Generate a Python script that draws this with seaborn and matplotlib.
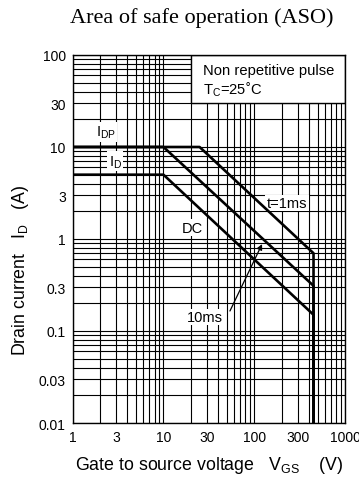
import matplotlib
matplotlib.use("Agg")
import matplotlib.pyplot as plt
from matplotlib.patches import Rectangle
import seaborn as sns
import pandas as pd

# Safe operating area boundaries (V_DS in V, I_D in A)
pulse_1ms_v = [1, 25, 450, 450]
pulse_1ms_i = [10, 10, 0.7, 0.01]
pulse_10ms_v = [1, 10, 450, 450]
pulse_10ms_i = [10, 10, 0.31, 0.01]
dc_v = [1, 10, 450, 450]
dc_i = [5, 5, 0.15, 0.01]

x_ticks = [1, 3, 10, 30, 100, 300, 1000]
x_tick_labels = ["1", "3", "10", "30", "100", "300", "1000"]
y_ticks = [0.01, 0.03, 0.1, 0.3, 1, 3, 10, 30, 100]
y_tick_labels = ["0.01", "0.03", "0.1", "0.3", "1", "3", "10", "30", "100"]

sns.set_theme(style="white")
plt.rcParams["font.family"] = ["Liberation Sans", "DejaVu Sans"]
plt.rcParams["mathtext.fontset"] = "custom"
plt.rcParams["mathtext.rm"] = "Liberation Sans"
plt.rcParams["text.color"] = "black"
plt.rcParams["axes.labelcolor"] = "black"

fig = plt.figure(figsize=(3.59, 4.81), dpi=100)
ax = fig.add_axes([0.2025, 0.1185, 0.7585, 0.7651])

curves = pd.concat([
    pd.DataFrame({"v": pulse_1ms_v, "i": pulse_1ms_i, "curve": "1ms"}),
    pd.DataFrame({"v": pulse_10ms_v, "i": pulse_10ms_i, "curve": "10ms"}),
    pd.DataFrame({"v": dc_v, "i": dc_i, "curve": "DC"}),
])
for name, grp in curves.groupby("curve", sort=False):
    sns.lineplot(data=grp, x="v", y="i", sort=False, estimator=None,
                 color="black", linewidth=1.9, ax=ax, zorder=4)

ax.set_xscale("log")
ax.set_yscale("log")
ax.set_xlim(1, 1000)
ax.set_ylim(0.01, 100)
ax.grid(which="both", color="black", linewidth=0.8, zorder=1)
ax.set_axisbelow(True)
for s in ax.spines.values():
    s.set_color("black")
    s.set_linewidth(1.0)
    s.set_zorder(6)

ax.set_xticks(x_ticks)
ax.set_xticklabels(x_tick_labels)
ax.set_yticks(y_ticks)
ax.set_yticklabels(y_tick_labels)
ax.tick_params(which="both", length=0, labelsize=10, colors="black", pad=5)
ax.set_xlabel("")
ax.set_ylabel("")

# condition box
ax.add_patch(Rectangle((0.434, 0.870), 0.566, 0.130, transform=ax.transAxes,
                       facecolor="white", edgecolor="black", linewidth=1.0, zorder=5))
ax.text(0.478, 0.958, "Non repetitive pulse", transform=ax.transAxes,
        fontsize=10.6, va="center", ha="left", zorder=6)
ax.text(0.478, 0.908, r"T$_\mathregular{C}$=25˚C", transform=ax.transAxes,
        fontsize=10.6, va="center", ha="left", zorder=6)

lbl_box = dict(facecolor="white", edgecolor="none", pad=1.0)
ax.text(2.3, 14.6, r"I$_\mathregular{DP}$", fontsize=10.5, ha="center", va="center",
        bbox=lbl_box, zorder=3)
ax.text(2.95, 7.0, r"I$_\mathregular{D}$", fontsize=10.5, ha="center", va="center",
        bbox=lbl_box, zorder=3)
ax.text(229, 2.46, "t=1ms", fontsize=10.5, ha="center", va="center",
        bbox=lbl_box, zorder=3)
ax.text(21, 1.32, "DC", fontsize=10.5, ha="center", va="center",
        bbox=lbl_box, zorder=3)
ax.text(28.6, 0.142, "10ms", fontsize=10.5, ha="center", va="center",
        bbox=lbl_box, zorder=3)
ax.annotate("", xy=(122, 0.88), xytext=(54, 0.165),
            arrowprops=dict(arrowstyle="-|>", color="black", lw=0.9,
                            mutation_scale=8, shrinkA=0, shrinkB=0), zorder=5)

fig.text(0.561, 1 - 18 / 481, "Area of safe operation (ASO)", fontsize=16,
         family=["Liberation Serif", "DejaVu Serif"], ha="center", va="center")
fig.text(0.582, 1 - 466 / 481, r"Gate to source voltage   V$_\mathregular{GS}$    (V)",
         fontsize=12.8, ha="center", va="center")
fig.text(0.056, 1 - 270 / 481, r"Drain current   I$_\mathregular{D}$   (A)",
         fontsize=12.8, ha="center", va="center", rotation=90)

fig.savefig("out.png", dpi=100)
